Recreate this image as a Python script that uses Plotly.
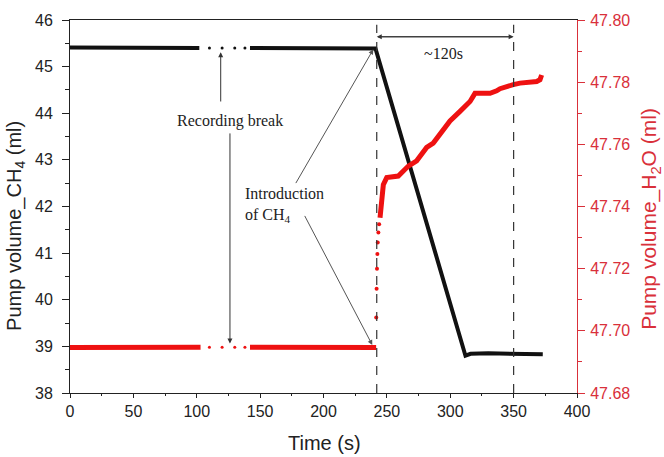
import plotly.graph_objects as go

# ---------------- data ----------------
ch4_t_a = [0, 50, 102]
ch4_a = [45.41, 45.40, 45.40]
ch4_gap_t = [110, 120, 130, 138]
ch4_gap = [45.40, 45.40, 45.40, 45.40]
ch4_t_b = [142, 200, 241, 312, 316, 330, 350, 373]
ch4_b = [45.40, 45.39, 45.39, 38.80, 38.84, 38.85, 38.85, 38.83]

h2o_t_a = [0, 50, 103]
h2o_a = [47.6946, 47.6947, 47.6947]
h2o_gap_t = [110, 120, 130, 138]
h2o_gap = [47.6947, 47.6947, 47.6947, 47.6947]
h2o_t_b = [142, 200, 241.5]
h2o_b = [47.6947, 47.6946, 47.6946]
h2o_rise_t = [241.6, 241.9, 242.2, 242.5, 242.8, 243.3, 243.9]
h2o_rise = [47.7043, 47.7135, 47.7200, 47.7247, 47.7284, 47.7316, 47.7343]
h2o_t_c = [244.6, 247.2, 249.9, 255.1, 259, 263, 266.9, 273.5, 281.4, 286.6,
           299.8, 307.7, 315.6, 319.5, 331.4, 336.6, 339.3, 349.7, 355, 368.2,
           370.8, 372.1]
h2o_c = [47.7364, 47.7470, 47.7493, 47.7498, 47.7498, 47.7514, 47.7530, 47.7547,
         47.7590, 47.7604, 47.7675, 47.7706, 47.7738, 47.7764, 47.7764, 47.7772,
         47.7779, 47.7792, 47.7797, 47.7802, 47.7808, 47.7823]

x_ticks = [0, 50, 100, 150, 200, 250, 300, 350, 400]
t_intro = 242
t_end = 350

BLACK = "#111111"
RED = "#ee1111"
AXRED = "#d9303a"

fig = go.Figure()
# CH4 (left axis)
fig.add_trace(go.Scatter(x=ch4_t_a, y=ch4_a, mode="lines",
                         line=dict(color=BLACK, width=4), yaxis="y"))
fig.add_trace(go.Scatter(x=ch4_gap_t, y=ch4_gap, mode="markers",
                         marker=dict(color=BLACK, size=3), yaxis="y"))
fig.add_trace(go.Scatter(x=ch4_t_b, y=ch4_b, mode="lines",
                         line=dict(color=BLACK, width=4), yaxis="y"))
# H2O (right axis)
fig.add_trace(go.Scatter(x=h2o_t_a, y=h2o_a, mode="lines",
                         line=dict(color=RED, width=5), yaxis="y2"))
fig.add_trace(go.Scatter(x=h2o_gap_t, y=h2o_gap, mode="markers",
                         marker=dict(color=RED, size=3), yaxis="y2"))
fig.add_trace(go.Scatter(x=h2o_t_b, y=h2o_b, mode="lines",
                         line=dict(color=RED, width=5), yaxis="y2"))
fig.add_trace(go.Scatter(x=h2o_rise_t, y=h2o_rise, mode="markers",
                         marker=dict(color=RED, size=4), yaxis="y2"))
fig.add_trace(go.Scatter(x=h2o_t_c, y=h2o_c, mode="lines",
                         line=dict(color=RED, width=5), yaxis="y2"))

# dashed vertical lines
for tv in [t_intro, t_end]:
    fig.add_shape(type="line", x0=tv, x1=tv, y0=38, y1=45.9, xref="x", yref="y",
                  line=dict(color="#333333", width=1.2, dash="dash"))

serif = "Liberation Serif"
TXT = "#222222"
ann = []
# ~120s double arrow
for a, b in [(t_end, t_intro), (t_intro, t_end)]:
    ann.append(dict(x=a, y=45.64, ax=b, ay=45.64, xref="x", yref="y",
                    axref="x", ayref="y", text="", showarrow=True, arrowhead=2,
                    arrowsize=1, arrowwidth=1, arrowcolor="#333333"))
ann.append(dict(x=294.5, y=45.29, xref="x", yref="y", text="~120s", showarrow=False,
                font=dict(family=serif, size=16, color=TXT)))
# Recording break
ann.append(dict(x=126.5, y=43.83, xref="x", yref="y", text="Recording break",
                showarrow=False, font=dict(family=serif, size=16, color=TXT)))
ann.append(dict(x=118.9, y=45.31, ax=118.9, ay=44.22, xref="x", yref="y",
                axref="x", ayref="y", text="", showarrow=True, arrowhead=2,
                arrowsize=1, arrowwidth=1, arrowcolor="#333333"))
ann.append(dict(x=126.2, y=39.06, ax=126.2, ay=43.6, xref="x", yref="y",
                axref="x", ayref="y", text="", showarrow=True, arrowhead=2,
                arrowsize=1, arrowwidth=1, arrowcolor="#333333"))
# Introduction of CH4
ann.append(dict(x=136.2, y=42.03, xref="x", yref="y",
                text="Introduction<br>of CH<sub>4</sub>", showarrow=False,
                xanchor="left", align="left",
                font=dict(family=serif, size=16, color=TXT)))
ann.append(dict(x=239.3, y=45.37, ax=177.5, ay=42.47, xref="x", yref="y",
                axref="x", ayref="y", text="", showarrow=True, arrowhead=2,
                arrowsize=1, arrowwidth=1, arrowcolor="#555555"))
ann.append(dict(x=238.5, y=39.03, ax=184.6, ay=41.83, xref="x", yref="y",
                axref="x", ayref="y", text="", showarrow=True, arrowhead=2,
                arrowsize=1, arrowwidth=1, arrowcolor="#555555"))
# axis titles
ann.append(dict(x=-0.1065, y=0.448, xref="paper", yref="paper", textangle=-90,
                xanchor="center", yanchor="middle",
                text="Pump volume_CH<sub>4</sub> (ml)", showarrow=False,
                font=dict(size=20, color=TXT)))
ann.append(dict(x=1.144, y=0.467, xref="paper", yref="paper", textangle=-90,
                xanchor="center", yanchor="middle",
                text="Pump volume_H<sub>2</sub>O (ml)", showarrow=False,
                font=dict(size=21, color=AXRED)))
ann.append(dict(x=0.501, y=-0.133, xref="paper", yref="paper",
                xanchor="center", yanchor="middle",
                text="Time (s)", showarrow=False, font=dict(size=20, color=TXT)))

fig.update_layout(
    width=664, height=457,
    margin=dict(l=70, r=87, t=18, b=64),
    paper_bgcolor="white", plot_bgcolor="white",
    showlegend=False,
    font=dict(family="Liberation Sans", size=16, color=TXT),
    annotations=ann,
    xaxis=dict(range=[0, 400], tickvals=x_ticks, showline=True, linecolor=TXT,
               linewidth=1, mirror=True, ticks="outside", ticklen=4, tickwidth=1,
               tickcolor=TXT, showgrid=False, zeroline=False,
               minor=dict(dtick=25, ticks="outside", ticklen=2, tickcolor=TXT),
               tickfont=dict(size=16)),
    yaxis=dict(range=[38, 46], dtick=1, showline=True, linecolor=TXT,
               linewidth=1, ticks="outside", ticklen=7, tickcolor=TXT,
               showgrid=False, zeroline=False, ticklabelstandoff=6,
               minor=dict(dtick=0.5, ticks="outside", ticklen=4, tickcolor=TXT),
               tickfont=dict(size=16)),
    yaxis2=dict(range=[47.68, 47.80], dtick=0.02, tickformat=".2f", overlaying="y",
                side="right", showline=True, linecolor=AXRED, linewidth=1,
                ticks="outside", ticklen=7, tickcolor=AXRED, showgrid=False,
                zeroline=False, ticklabelstandoff=2,
                minor=dict(dtick=0.01, ticks="outside", ticklen=4, tickcolor=AXRED),
                tickfont=dict(size=16, color=AXRED)),
)

fig.write_html("out.html")
